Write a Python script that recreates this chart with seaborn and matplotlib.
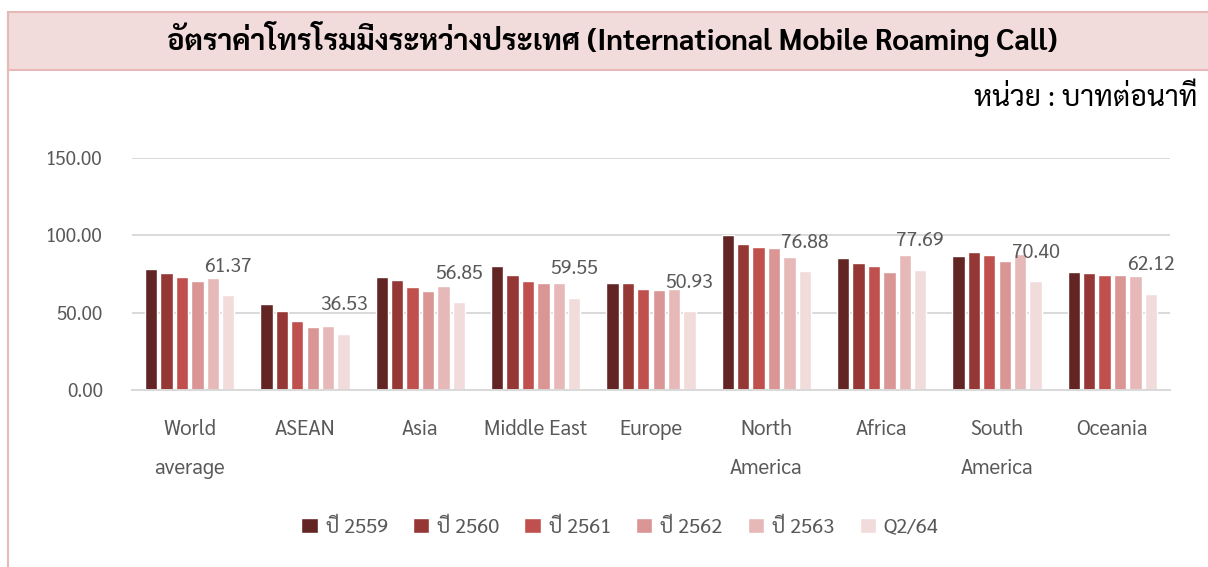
import numpy as np
import pandas as pd
import matplotlib
matplotlib.use("Agg")
import matplotlib.pyplot as plt
import seaborn as sns
from matplotlib.patches import Rectangle

# rates in baht per minute
regions = ["World\naverage", "ASEAN", "Asia", "Middle East", "Europe",
           "North\nAmerica", "Africa", "South\nAmerica", "Oceania"]
years = ["ปี 2559", "ปี 2560", "ปี 2561", "ปี 2562", "ปี 2563", "Q2/64"]
y2559 = [78.5, 55.5, 72.9, 80.2, 69.5, 100.2, 85.6, 86.5, 76.6]
y2560 = [75.9, 51.4, 71.0, 74.4, 69.5, 94.4, 82.4, 89.0, 75.5]
y2561 = [72.9, 44.9, 66.9, 70.3, 65.6, 92.7, 80.0, 87.1, 74.6]
y2562 = [70.5, 40.6, 63.7, 69.0, 64.9, 92.0, 76.1, 83.4, 74.2]
y2563 = [72.3, 41.7, 67.1, 69.0, 65.2, 86.2, 87.5, 87.7, 73.8]
q264 = [61.37, 36.53, 56.85, 59.55, 50.93, 76.88, 77.69, 70.40, 62.12]
colors = ["#632523", "#953735", "#C0504D", "#D99694", "#E6B9B8", "#F2DCDB"]

series = [y2559, y2560, y2561, y2562, y2563, q264]
rows = []
for yr, vals in zip(years, series):
    for r, v in zip(regions, vals):
        rows.append({"region": r, "year": yr, "value": v})
df = pd.DataFrame(rows)

sns.set_style("white")
plt.rcParams['font.family'] = ['Sarabun', 'DejaVu Sans']
grey = "#595959"

fig = plt.figure(figsize=(12.08, 5.67), dpi=100)
ax = fig.add_axes([132/1208, 1 - 390/567, (1170-132)/1208, (390-158)/567])

sns.barplot(data=df, x="region", y="value", hue="year", palette=colors,
            width=0.8, gap=0.2, saturation=1, ax=ax, errorbar=None)

ax.set_ylim(0, 150)
ax.set_yticks([0, 50, 100, 150])
ax.set_yticklabels(["%.2f" % t for t in [0, 50, 100, 150]])
ax.yaxis.grid(True, color="#D9D9D9", linewidth=1.4)
ax.set_axisbelow(True)
for s in ["top", "right", "left"]:
    ax.spines[s].set_visible(False)
ax.spines["bottom"].set_color("#D9D9D9")
ax.spines["bottom"].set_linewidth(1.4)
ax.tick_params(axis="y", length=0, pad=21, labelsize=13.5, labelcolor=grey)
ax.tick_params(axis="x", length=0, pad=21, labelsize=14.8, labelcolor=grey)
for lab in ax.get_xticklabels():
    lab.set_linespacing(2.1)
ax.set_xlabel("")
ax.set_ylabel("")
ax.set_xlim(-0.5, len(regions) - 0.5)

# value labels on the latest period only
ax.bar_label(ax.containers[5], fmt="%.2f", padding=14, fontsize=14, color=grey)

handles, labels = ax.get_legend_handles_labels()
ax.legend_.remove()
fig.legend(handles, labels, loc="center", bbox_to_anchor=(620/1208, 1 - 527/567),
           ncol=6, frameon=False, fontsize=14.5, handlelength=0.8, handleheight=0.8,
           handletextpad=0.4, columnspacing=1.25, labelcolor=grey)

# title band and frame
pink = "#E6B8B7"
fig.patches.append(Rectangle((8/1208, 1 - 70/567), 1.1, 58/567, transform=fig.transFigure,
                             facecolor="#F2DCDB", edgecolor=pink, linewidth=1.5))
fig.add_artist(plt.Line2D([8/1208, 8/1208], [0, 1 - 12/567], transform=fig.transFigure,
                          color=pink, linewidth=1.5))
fig.text(612/1208, 1 - 39/567, "อัตราค่าโทรโรมมิ่งระหว่างประเทศ (International Mobile Roaming Call)",
         ha="center", va="center", fontsize=21, fontweight="bold", color="black")
fig.text(1198/1208, 1 - 99/567, "หน่วย : บาทต่อนาที", ha="right", va="center",
         fontsize=20.5, color="black")

fig.savefig("out.png", dpi=100)
